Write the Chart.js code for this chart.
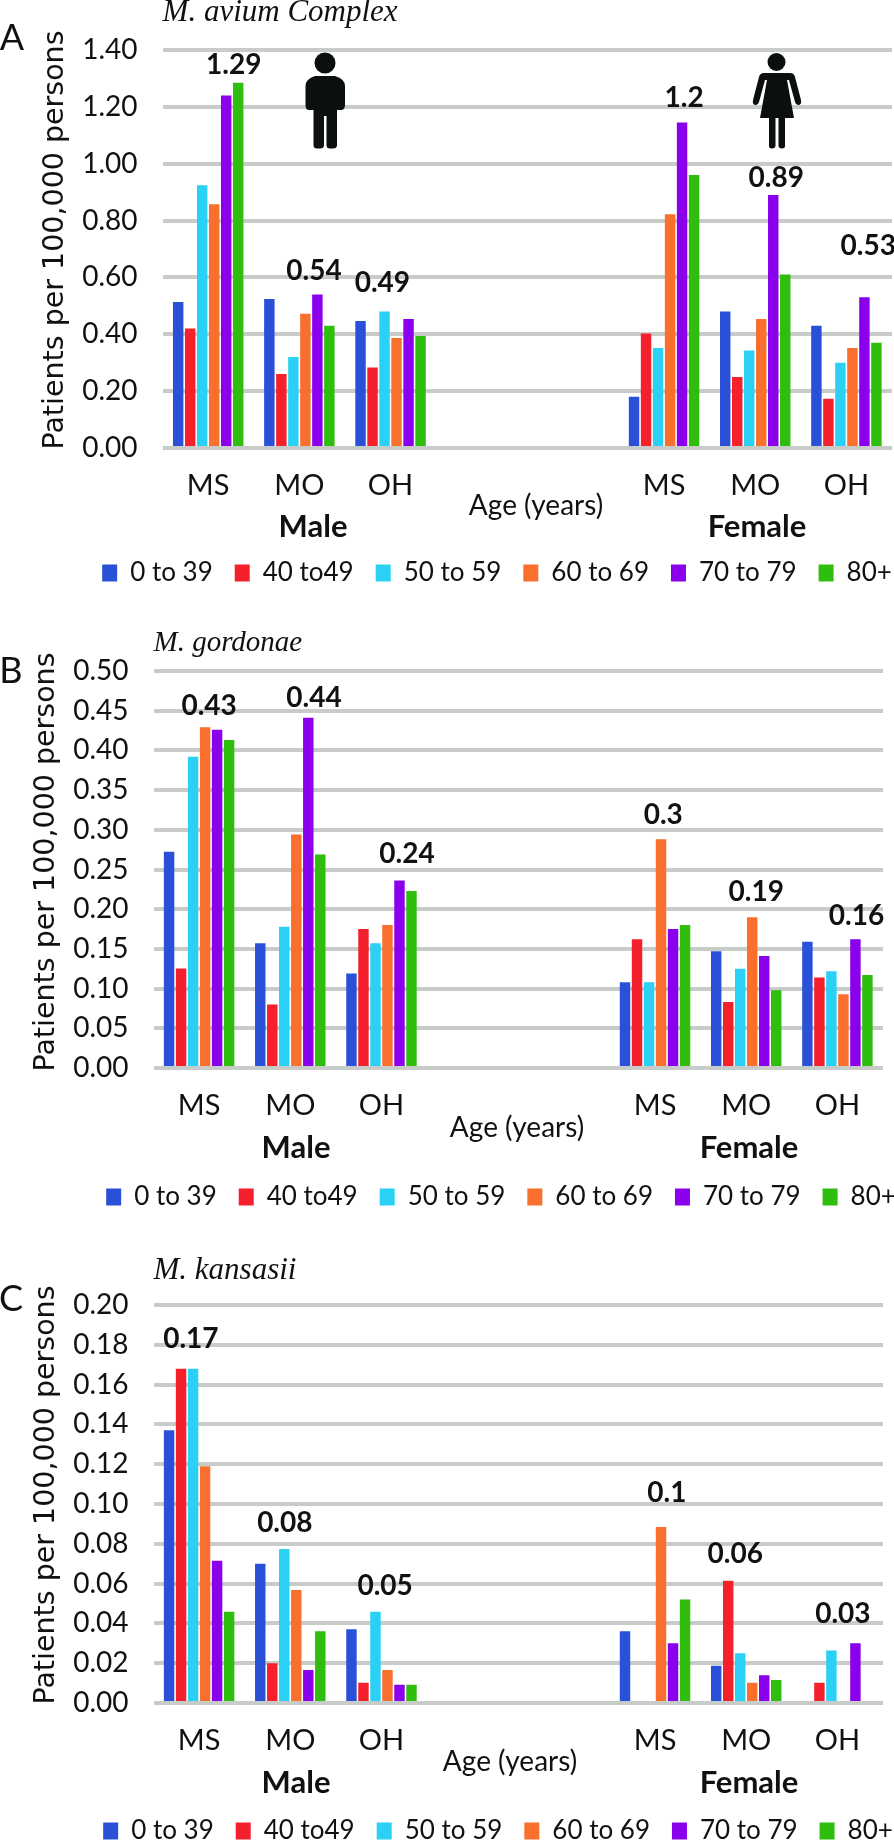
<!DOCTYPE html>
<html>
<head>
<meta charset="utf-8">
<title>Patients per 100,000 persons</title>
<script src="https://cdn.jsdelivr.net/npm/chart.js@4/dist/chart.umd.min.js"></script>
<style>
  html, body { margin: 0; padding: 0; background: #fff; }
  #page { position: relative; width: 894px; height: 1840px; overflow: hidden; }
  canvas { position: absolute; left: 0; }
  svg { position: absolute; }
</style>
</head>
<body>
<div id="page">
  <canvas id="chartA" width="894" height="600" style="top:0"></canvas>
  <canvas id="chartB" width="894" height="600" style="top:610px"></canvas>
  <canvas id="chartC" width="894" height="600" style="top:1240px"></canvas>
  <!-- male and female pictograms of panel A -->
  <svg style="left:300px;top:50px" width="50" height="100" viewBox="0 0 50 100" fill="#0b0f10">
    <circle cx="25" cy="13" r="10.5"/>
    <path d="M15 26 H35 Q45 29 45 36 V55 Q45 60 41 60 L37 60 V95 Q37 98.5 33 98.5 H30 Q26.5 98.5 26.5 95 V66 H24 V95 Q24 98.5 20 98.5 H17 Q13.5 98.5 13.5 95 V60 H9 Q5.5 60 5.5 55 V36 Q5.5 29 15 26 Z"/>
  </svg>
  <svg style="left:750px;top:50px" width="54" height="100" viewBox="0 0 54 100" fill="#0b0f10">
    <circle cx="26.5" cy="12" r="9"/>
    <path d="M14 23 H40 Q44 23 45 27 L51 50 Q52 55 48 55 Q46 55 45 52 L39 30 L37 30 L44 68 H35 V96 Q35 98.5 32 98.5 Q29 98.5 28.5 96 V68 H25.5 V96 Q25 98.5 22 98.5 Q19 98.5 19 96 V68 H10 L17 30 L15 30 L9 52 Q8 55 6 55 Q2 55 3 50 L9 27 Q10 23 14 23 Z"/>
  </svg>
</div>
<script>
var ageGroups = ["0 to 39", "40 to49", "50 to 59", "60 to 69", "70 to 79", "80+"];
var ageColors = ["#2a50d8", "#f4202c", "#2bd0f5", "#f96f2e", "#8a00ec", "#2fbd0e"];
var stateLabels = ["MS", "MO", "OH", "", "", "MS", "MO", "OH"];

// M. avium Complex
var aviumAge0 = [0.514, 0.524, 0.447, null, null, 0.18, 0.48, 0.43];
var aviumAge40 = [0.42, 0.26, 0.283, null, null, 0.403, 0.25, 0.173];
var aviumAge50 = [0.924, 0.32, 0.48, null, null, 0.352, 0.343, 0.30];
var aviumAge60 = [0.857, 0.472, 0.387, null, null, 0.822, 0.454, 0.352];
var aviumAge70 = [1.24, 0.54, 0.454, null, null, 1.145, 0.89, 0.53];
var aviumAge80 = [1.285, 0.43, 0.394, null, null, 0.96, 0.61, 0.37];
var aviumPeaks = ["1.29", "0.54", "0.49", "1.2", "0.89", "0.53"];

// M. gordonae
var gordonaeAge0 = [0.2725, 0.157, 0.119, null, null, 0.108, 0.147, 0.159];
var gordonaeAge40 = [0.1254, 0.08, 0.175, null, null, 0.162, 0.083, 0.114];
var gordonaeAge50 = [0.392, 0.178, 0.157, null, null, 0.108, 0.125, 0.122];
var gordonaeAge60 = [0.429, 0.294, 0.18, null, null, 0.288, 0.19, 0.093];
var gordonaeAge70 = [0.426, 0.441, 0.236, null, null, 0.175, 0.141, 0.162];
var gordonaeAge80 = [0.413, 0.269, 0.223, null, null, 0.18, 0.098, 0.117];
var gordonaePeaks = ["0.43", "0.44", "0.24", "0.3", "0.19", "0.16"];

// M. kansasii
var kansasiiAge0 = [0.137, 0.07, 0.037, null, null, 0.036, 0.0187, 0];
var kansasiiAge40 = [0.168, 0.02, 0.0102, null, null, 0, 0.0614, 0.0102];
var kansasiiAge50 = [0.168, 0.0774, 0.0458, null, null, 0, 0.025, 0.0264];
var kansasiiAge60 = [0.119, 0.0568, 0.0166, null, null, 0.0885, 0.0102, 0];
var kansasiiAge70 = [0.0715, 0.0166, 0.0092, null, null, 0.03, 0.014, 0.03];
var kansasiiAge80 = [0.0458, 0.036, 0.0092, null, null, 0.052, 0.0115, 0];
var kansasiiPeaks = ["0.17", "0.08", "0.05", "0.1", "0.06", "0.03"];

var FONT = "Lato";
var TEXT = "#111";

function textAt(ctx, str, x, y, font, align) {
  ctx.font = font;
  ctx.fillStyle = TEXT;
  ctx.textAlign = align || "center";
  ctx.textBaseline = "middle";
  ctx.fillText(str, x, y);
}

// everything that is not a bar: value labels, group names, panel letter, titles
var panelText = {
  id: "panelText",
  afterDatasetsDraw: function (chart, args, opts) {
    var ctx = chart.ctx, x = chart.scales.x, y = chart.scales.y;
    ctx.save();
    opts.peaks.forEach(function (txt, i) {
      var at = opts.peakAt[i];
      var step = x.getPixelForValue(1) - x.getPixelForValue(0);
      textAt(ctx, txt, x.getPixelForValue(0) + at[0] * step, y.getPixelForValue(at[1]), "bold 28px " + FONT);
    });
    textAt(ctx, opts.letter, opts.letterX, opts.letterY, "36px " + FONT);
    textAt(ctx, opts.title, x.left, opts.titleY, "italic " + opts.titleSize + "px 'Liberation Serif'", "left");
    textAt(ctx, "Male", opts.maleX, opts.groupY, "bold 31px " + FONT);
    textAt(ctx, "Female", opts.femaleX, opts.groupY, "bold 31px " + FONT);
    textAt(ctx, "Age (years)", opts.ageX, opts.ageY, "28px " + FONT);
    ctx.translate(opts.axisX, opts.axisY);
    ctx.rotate(-Math.PI / 2);
    textAt(ctx, "Patients per 100,000 persons", 0, 0, "28.5px 'DejaVu Sans'");
    ctx.restore();
  }
};

// puts the library legend where the reference has it
var legendPlace = {
  id: "legendPlace",
  afterLayout: function (chart, args, opts) {
    var lg = chart.legend, w = lg.right - lg.left, h = lg.bottom - lg.top;
    var shift = opts.centerX - w / 2;
    lg.left = shift;
    lg.right = shift + w;
    lg.top = opts.centerY - lg.options.labels.padding - 13;
    lg.bottom = lg.top + h;
  }
};

function makePanel(id, series, maxY, step, cfg) {
  return new Chart(document.getElementById(id), {
    type: "bar",
    data: {
      labels: stateLabels,
      datasets: ageGroups.map(function (name, i) {
        return {
          label: name,
          data: series[i],
          backgroundColor: ageColors[i],
          borderWidth: 0,
          categoryPercentage: 0.79,
          barPercentage: 0.87
        };
      })
    },
    options: {
      responsive: false,
      animation: false,
      layout: { padding: { left: 0, right: 894 - cfg.plotRight, top: cfg.plotTop, bottom: 0 } },
      scales: {
        x: {
          grid: { display: false },
          border: { display: false },
          ticks: {
            autoSkip: false, maxRotation: 0, padding: 12,
            color: TEXT, font: { family: FONT, size: 29 }
          },
          afterFit: function (scale) {
            scale.height = 600 - cfg.plotBottom - scale.chart.legend.height;
          }
        },
        y: {
          min: 0,
          max: maxY,
          grid: { color: "#c8ccc9", lineWidth: 4, drawTicks: false },
          border: { display: false },
          ticks: {
            stepSize: step, padding: 25,
            color: TEXT, font: { family: FONT, size: 28 },
            callback: function (v) { return v.toFixed(2); }
          },
          afterFit: function (scale) { scale.width = cfg.plotLeft; }
        }
      },
      plugins: {
        tooltip: { enabled: false },
        legend: {
          position: "bottom",
          labels: {
            boxWidth: 15, boxHeight: 17, padding: 22,
            color: TEXT, font: { family: FONT, size: 26 }
          }
        },
        legendPlace: { centerX: cfg.legendX, centerY: cfg.legendY },
        panelText: cfg
      }
    },
    plugins: [legendPlace, panelText]
  });
}

document.fonts.load("26px Lato").then(function () {
  makePanel("chartA", [aviumAge0, aviumAge40, aviumAge50, aviumAge60, aviumAge70, aviumAge80], 1.4, 0.2, {
    letter: "A", letterX: 12, letterY: 38, title: "M. avium Complex", titleY: 13, titleSize: 31,
    plotLeft: 162.6, plotRight: 892, plotTop: 50, plotBottom: 448,
    peaks: aviumPeaks,
    peakAt: [[0.28, 1.349], [1.16, 0.624], [1.91, 0.581], [5.22, 1.232], [6.23, 0.95], [7.24, 0.712]],
    maleX: 313, femaleX: 757, groupY: 527, ageX: 536, ageY: 506,
    axisX: 56, axisY: 240, legendX: 497, legendY: 573
  });
  makePanel("chartB", [gordonaeAge0, gordonaeAge40, gordonaeAge50, gordonaeAge60, gordonaeAge70, gordonaeAge80], 0.5, 0.05, {
    letter: "B", letterX: 11, letterY: 61, title: "M. gordonae", titleY: 33, titleSize: 29,
    plotLeft: 153.5, plotRight: 883, plotTop: 61, plotBottom: 458,
    peaks: gordonaePeaks,
    peakAt: [[0.11, 0.456], [1.26, 0.466], [2.28, 0.27], [5.09, 0.319], [6.11, 0.222], [7.21, 0.192]],
    maleX: 296, femaleX: 749, groupY: 538, ageX: 517, ageY: 518,
    axisX: 47, axisY: 252, legendX: 501, legendY: 587
  });
  makePanel("chartC", [kansasiiAge0, kansasiiAge40, kansasiiAge50, kansasiiAge60, kansasiiAge70, kansasiiAge80], 0.2, 0.02, {
    letter: "C", letterX: 11, letterY: 59, title: "M. kansasii", titleY: 31, titleSize: 31,
    plotLeft: 153.5, plotRight: 883, plotTop: 65, plotBottom: 463,
    peaks: kansasiiPeaks,
    peakAt: [[-0.09, 0.183], [0.94, 0.0907], [2.04, 0.0587], [5.13, 0.1055], [5.88, 0.0748], [7.06, 0.0448]],
    maleX: 296, femaleX: 749, groupY: 543, ageX: 510, ageY: 522,
    axisX: 47, axisY: 255, legendX: 498, legendY: 591
  });
});
</script>
</body>
</html>
